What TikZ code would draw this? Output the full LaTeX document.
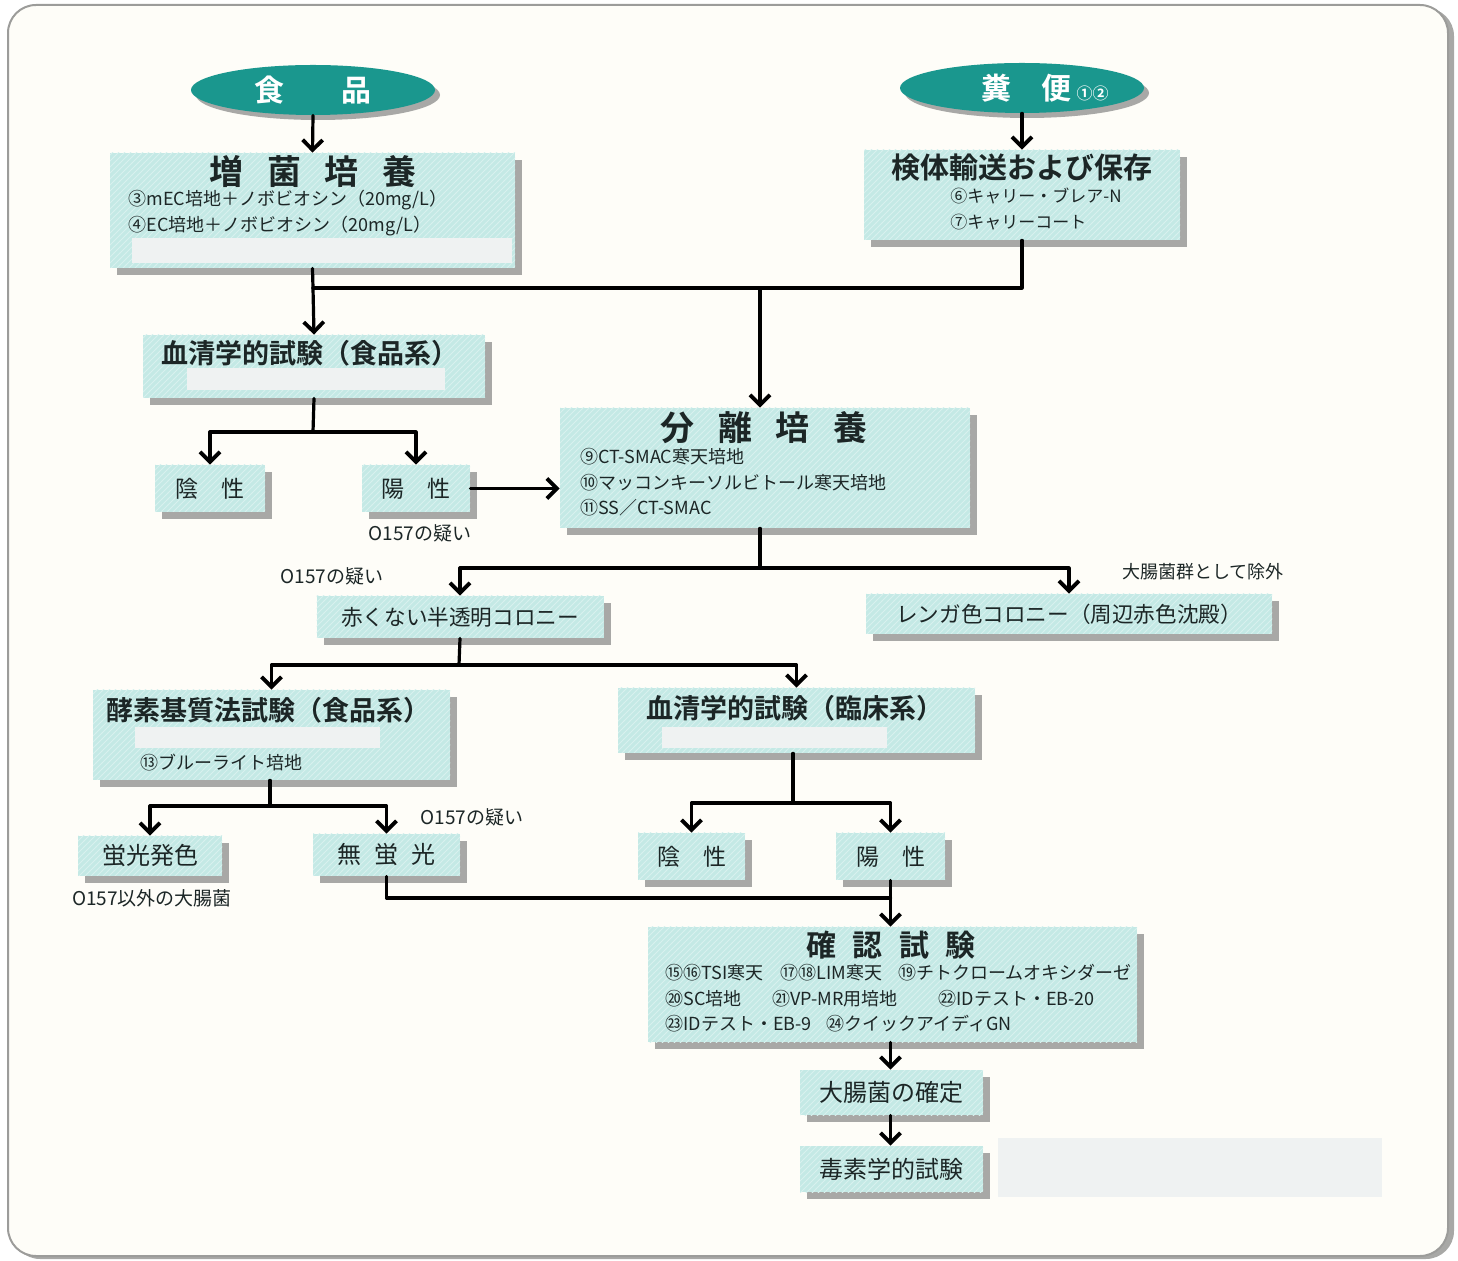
\documentclass[tikz,border=0pt]{standalone}
\usepackage{fontspec}
\setmainfont{Noto Sans CJK JP}[BoldFont={Noto Sans CJK JP Bold}]
\usepackage{tikz}
\usetikzlibrary{arrows.meta,shapes.geometric,shadows,patterns}

\definecolor{bgcol}{HTML}{FEFDF8}
\definecolor{boxcol}{HTML}{C4E9E5}
\definecolor{boxlight}{HTML}{D8F1EE}
\definecolor{ovalcol}{HTML}{1A978E}
\definecolor{shadowcol}{HTML}{A8A8A6}
\definecolor{barcol}{HTML}{EFF2F2}
\definecolor{framecol}{HTML}{9C9C9A}
\definecolor{inkcol}{HTML}{1C2626}

\begin{document}
\begin{tikzpicture}[x=0.5pt, y=-0.5pt, line cap=round, line join=round]
  % ---- Styles ----
  \tikzset{
    box/.style={rectangle, fill=boxcol, inner sep=0pt, text=inkcol,
      postaction={pattern=north east lines, pattern color=boxlight},
      drop shadow={shadow xshift=3.5pt, shadow yshift=-3.5pt,
        fill=shadowcol, opacity=1}},
    oval/.style={ellipse, fill=ovalcol, inner sep=0pt,
      minimum width=122pt, minimum height=25pt,
      drop shadow={shadow xshift=2.5pt, shadow yshift=-2.5pt,
        fill=shadowcol, opacity=1}},
    link/.style={line width=1.6pt},
    flow/.style={link, -{Straight Barb[length=5pt, width=10pt, line width=1.9pt]}},
    ttl/.style={font=\bfseries\fontsize{13.5}{16}\selectfont, inner sep=0pt, text=inkcol},
    big/.style={font=\bfseries\fontsize{17}{20}\selectfont, inner sep=0pt, text=inkcol},
    sub/.style={font=\fontsize{9}{12.75}\selectfont, align=left, inner sep=0pt, anchor=west, text=inkcol},
    lbl/.style={font=\fontsize{11.5}{14}\selectfont},
    note/.style={font=\fontsize{9.5}{12}\selectfont, inner sep=0pt, text=inkcol},
    bar/.style={fill=barcol},
  }

  % ---- Frame ----
  \useasboundingbox (0,0) rectangle (1458,1261);
  \fill[shadowcol, rounded corners=14pt] (12,8) rectangle (1454,1259);
  \draw[framecol, line width=1pt, fill=bgcol, rounded corners=14pt] (8,5) rectangle (1448,1256);

  % ---- Start ovals ----
  \node[oval, text=white, font=\bfseries\fontsize{15}{16}\selectfont] (shokuhin) at (313,90) {食\hspace{1.9em}品};
  \node[oval] (fuben) at (1022,88) {};
  \node[text=white, font=\bfseries\fontsize{15}{16}\selectfont, inner sep=0pt] (fubenT) at (1045,88)
    {糞\hspace{1em}便\,{\fontsize{8}{8}\selectfont ①②}};

  % ---- Enrichment / transport ----
  \node[box, minimum width=202.5pt, minimum height=57.5pt] (zokin) at (312.5,210.5) {};
  \fill[bar] (132,238) rectangle (512,263);
  \node[big] (zokinT) at (313,172) {増\hspace{0.7em}菌\hspace{0.7em}培\hspace{0.7em}養};
  \node[sub] (zokinS) at (128,213) {③mEC培地＋ノボビオシン（20mg/L）\\④EC培地＋ノボビオシン（20mg/L）};

  \node[box, minimum width=158pt, minimum height=45pt] (kentai) at (1022,195) {};
  \node[ttl, font=\bfseries\fontsize{14.5}{16}\selectfont] (kentaiT) at (1022,168) {検体輸送および保存};
  \node[sub, font=\fontsize{8.5}{12.75}\selectfont] (kentaiS) at (950,209) {⑥キャリー・ブレア-N\\⑦キャリーコート};

  % ---- Serology (food) ----
  \node[box, minimum width=171pt, minimum height=31.5pt] (kessei1) at (314,366.5) {};
  \fill[bar] (187,368) rectangle (445,390);
  \node[ttl] (kessei1T) at (310,353) {血清学的試験（食品系）};

  \node[box, lbl, minimum width=55pt, minimum height=23.5pt] (insei1) at (210,488.5) {陰\hspace{1em}性};
  \node[box, lbl, minimum width=54pt, minimum height=23.5pt] (yosei1) at (416,488.5) {陽\hspace{1em}性};
  \node[note] (gi1) at (420,533) {O157の疑い};

  % ---- Isolation ----
  \node[box, minimum width=205pt, minimum height=60pt] (bunri) at (765,468) {};
  \node[big] (bunriT) at (764,428) {分\hspace{0.7em}離\hspace{0.7em}培\hspace{0.7em}養};
  \node[sub] (bunriS) at (580,482.5) {⑨CT-SMAC寒天培地\\⑩マッコンキーソルビトール寒天培地\\⑪SS／CT-SMAC};

  \node[box, lbl, font=\fontsize{10.8}{12}\selectfont, minimum width=143.5pt, minimum height=21pt] (akakunai) at (460,617) {赤くない半透明コロニー};
  \node[box, lbl, font=\fontsize{10.8}{12}\selectfont, minimum width=203pt, minimum height=20pt] (renga) at (1069,614) {レンガ色コロニー（周辺赤色沈殿）};
  \node[note] (gi2) at (332,576) {O157の疑い};
  \node[note, font=\fontsize{9}{12}\selectfont] (jogai) at (1203,572) {大腸菌群として除外};

  % ---- Enzyme substrate / serology (clinical) ----
  \node[box, minimum width=178.5pt, minimum height=45pt] (koso) at (271.5,735) {};
  \fill[bar] (135,727) rectangle (380,748);
  \node[ttl] (kosoT) at (268,710) {酵素基質法試験（食品系）};
  \node[sub] (kosoS) at (140,763) {⑬ブルーライト培地};

  \node[box, minimum width=178.5pt, minimum height=32.5pt] (kessei2) at (796.5,720.5) {};
  \fill[bar] (662,727) rectangle (887,748);
  \node[ttl] (kessei2T) at (795,708) {血清学的試験（臨床系）};

  \node[box, lbl, font=\fontsize{12}{14}\selectfont, minimum width=72pt, minimum height=20pt] (keiko) at (150,856) {蛍光発色};
  \node[box, lbl, font=\fontsize{12}{14}\selectfont, minimum width=73.5pt, minimum height=21pt] (mukeiko) at (386.5,855) {無\hspace{0.55em}蛍\hspace{0.55em}光};
  \node[note] (gi3) at (472,817) {O157の疑い};
  \node[note] (igai) at (152,898) {O157以外の大腸菌};

  \node[box, lbl, minimum width=53.5pt, minimum height=23.5pt] (insei2) at (691.5,856.5) {陰\hspace{1em}性};
  \node[box, lbl, minimum width=54.5pt, minimum height=23.5pt] (yosei2) at (890.5,856.5) {陽\hspace{1em}性};

  % ---- Confirmation ----
  \node[box, minimum width=244.5pt, minimum height=57.5pt] (kakunin) at (892.5,984.5) {};
  \node[big, font=\bfseries\fontsize{15}{16}\selectfont] (kakuninT) at (891,945) {確\hspace{0.55em}認\hspace{0.55em}試\hspace{0.55em}験};
  \node[sub] (kakuninS) at (665,998.5)
    {\makebox[57.5pt][l]{⑮⑯TSI寒天}\makebox[59pt][l]{⑰⑱LIM寒天}⑲チトクロームオキシダーゼ\\
     \makebox[53.5pt][l]{⑳SC培地}\makebox[83pt][l]{㉑VP-MR用培地}㉒IDテスト・EB-20\\
     \makebox[80.5pt][l]{㉓IDテスト・EB-9}㉔クイックアイディGN};

  \node[box, lbl, font=\fontsize{12}{14}\selectfont, minimum width=91.5pt, minimum height=22.5pt] (kakutei) at (891.5,1092.5) {大腸菌の確定};
  \node[box, lbl, font=\fontsize{12}{14}\selectfont, minimum width=91.5pt, minimum height=23pt] (dokuso) at (891.5,1169) {毒素学的試験};
  \fill[bar] (998,1138) rectangle (1382,1197);

  % ---- Connectors ----
  \coordinate (jA) at (313,288);
  \coordinate (jB) at (313,432);
  \coordinate (jC) at (760,568);
  \coordinate (jD) at (459,665);
  \coordinate (jE) at (270,806);
  \coordinate (jF) at (793,803);
  \coordinate (jG) at (890.5,898);

  \draw[flow] (shokuhin.south) -- (zokin.north);
  \draw[flow] (fuben.south) -- (kentai.north);

  \draw[link] (zokin.south) -- (jA);
  \draw[link] (kentai.south) |- (jA);
  \draw[flow] (jA) -- (kessei1.north);
  \draw[flow] (jA -| jC) -- (jC |- bunri.north);

  \draw[link] (kessei1.south) -- (jB);
  \draw[flow] (jB) -| (insei1.north);
  \draw[flow] (jB) -| (yosei1.north);
  \draw[flow] (yosei1.east) -- (yosei1.east -| bunri.west);

  \draw[link] (jC |- bunri.south) -- (jC);
  \draw[flow] (jC) -| (akakunai.north);
  \draw[flow] (jC) -| (renga.north);

  \draw[link] (akakunai.south) -- (jD);
  \draw[flow] (jD) -| (koso.north);
  \draw[flow] (jD) -| (kessei2.north);

  \draw[link] (jE |- koso.south) -- (jE);
  \draw[flow] (jE) -| (keiko.north);
  \draw[flow] (jE) -| (mukeiko.north);

  \draw[link] (jF |- kessei2.south) -- (jF);
  \draw[flow] (jF) -| (insei2.north);
  \draw[flow] (jF) -| (yosei2.north);

  \draw[link] (mukeiko.south) |- (jG);
  \draw[link] (yosei2.south) -- (jG);
  \draw[flow] (jG) -- (jG |- kakunin.north);

  \draw[flow] (kakunin.south -| jG) -- (jG |- kakutei.north);
  \draw[flow] (kakutei.south -| jG) -- (jG |- dokuso.north);

\end{tikzpicture}
\end{document}
